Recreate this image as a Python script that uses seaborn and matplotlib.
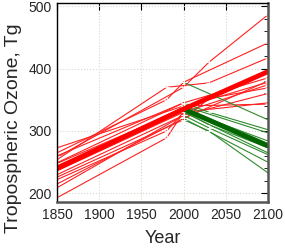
import pandas as pd
import matplotlib
matplotlib.use("Agg")
import matplotlib.pyplot as plt
import seaborn as sns
from matplotlib.ticker import MultipleLocator

# ---- dados (Tg) ----
# modelos "vermelhos" (cenários de aumento)
red_years = [
    [1850, 2000, 2030, 2100],
    [1850, 1980, 2000, 2100],
    [1850, 1980, 2030, 2100],
    [1850, 2000, 2100],
    [1850, 2000, 2100],
    [1850, 2000, 2100],
    [1850, 2000, 2030, 2100],
    [1850, 1980, 2000, 2100],
    [1850, 2000, 2100],
    [1850, 2000, 2100],
    [1850, 1980, 2000],
    [1850, 2000],
    [1850, 2000],
    [1850, 2000, 2100],
    [1850, 2000],
]
red_values = [
    [258, 370, 410, 486],
    [265, 350, 378, 441],
    [254, 370, 377, 417],
    [249, 345, 385],
    [244, 338, 378],
    [236, 330, 374],
    [226, 318, 352, 369],
    [222, 300, 330, 345],
    [273, 340, 343],
    [209, 325, 360],
    [193, 289, 330],
    [230, 325],
    [260, 345],
    [215, 320, 380],
    [248, 335],
]
red_mean_years = [1850, 2000, 2100]
red_mean_values = [240, 335, 395]

# modelos "verdes" (cenários de redução)
green_years = [
    [2000, 2100],
    [2000, 2030, 2100],
    [2000, 2100],
    [2000, 2030, 2100],
    [2000, 2100],
    [2000, 2030, 2100],
    [2000, 2100],
    [2000, 2030, 2100],
    [2000, 2100],
    [2000, 2100],
]
green_values = [
    [378, 318],
    [345, 330, 302],
    [340, 297],
    [332, 310, 273],
    [330, 265],
    [325, 305, 262],
    [320, 250],
    [318, 300, 233],
    [338, 280],
    [334, 284],
]
green_mean_years = [2000, 2100]
green_mean_values = [335, 276]


def to_long(years, values, prefix):
    rows = []
    for i, (ys, vs) in enumerate(zip(years, values)):
        for y, v in zip(ys, vs):
            rows.append({"model": f"{prefix}{i}", "Year": y, "Ozone": v})
    return pd.DataFrame(rows)


df_red = to_long(red_years, red_values, "r")
df_green = to_long(green_years, green_values, "g")
df_rmean = to_long([red_mean_years], [red_mean_values], "rm")
df_gmean = to_long([green_mean_years], [green_mean_values], "gm")

sns.set_theme(style="white")
plt.rcParams["font.family"] = ["Liberation Sans", "DejaVu Sans"]

fig = plt.figure(figsize=(2.85, 2.48), dpi=100)
ax = fig.add_axes([0.2, 0.185, 0.74, 0.803])

ax.grid(True, color="#d8d8cc", linestyle=":", linewidth=0.8)

sns.lineplot(data=df_red, x="Year", y="Ozone", units="model", estimator=None,
             color="#ff2020", linewidth=0.8, marker="+", markersize=5,
             markeredgewidth=0.6, ax=ax)
sns.lineplot(data=df_green, x="Year", y="Ozone", units="model", estimator=None,
             color="#2e8b2e", linewidth=0.8, marker="+", markersize=5,
             markeredgewidth=0.6, ax=ax)
sns.lineplot(data=df_gmean, x="Year", y="Ozone", units="model", estimator=None,
             color="#006400", linewidth=3.5, ax=ax)
sns.lineplot(data=df_rmean, x="Year", y="Ozone", units="model", estimator=None,
             color="#ff0000", linewidth=3.5, ax=ax)

ax.set_xlim(1850, 2100)
ax.set_ylim(186, 505)
ax.set_xticks([1850, 1900, 1950, 2000, 2050, 2100])
ax.set_yticks([200, 300, 400, 500])
ax.yaxis.set_minor_locator(MultipleLocator(20))
ax.tick_params(which="both", direction="in", top=True, right=True,
               color="black", labelsize=10, pad=4)
ax.tick_params(which="major", length=5, width=0.8)
ax.tick_params(which="minor", length=3, width=0.6, top=False)

for side in ["top", "left"]:
    ax.spines[side].set_color("black")
    ax.spines[side].set_linewidth(1.0)
for side in ["bottom", "right"]:
    ax.spines[side].set_color("#555555")
    ax.spines[side].set_linewidth(1.8)

ax.set_xlabel("Year", fontsize=13)
ax.set_ylabel("Tropospheric Ozone, Tg", fontsize=14)
ax.xaxis.set_label_coords(0.5, -0.141)
ax.yaxis.set_label_coords(-0.166, 0.372)

fig.savefig("out.png", dpi=100)
